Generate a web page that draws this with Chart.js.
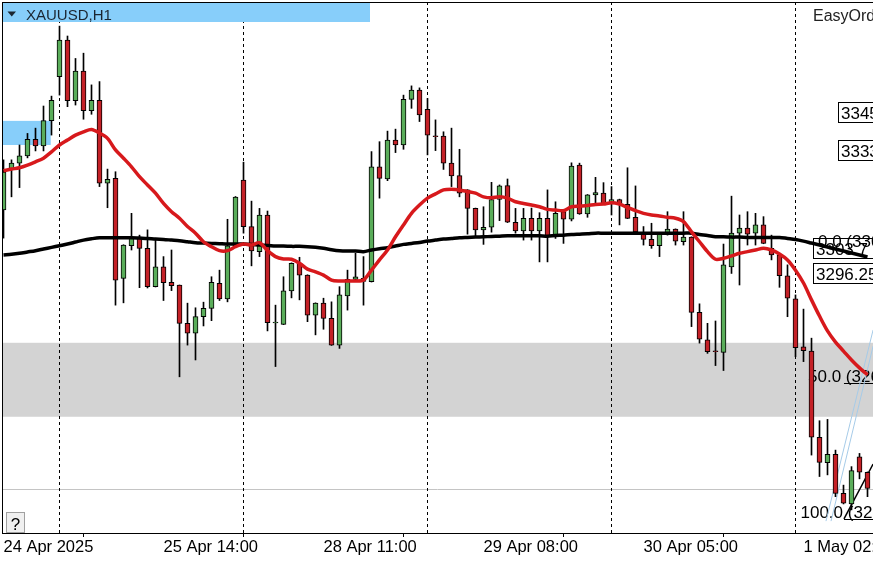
<!DOCTYPE html>
<html>
<head>
<meta charset="utf-8">
<title>XAUUSD,H1</title>
<script src="https://cdn.jsdelivr.net/npm/chart.js@4.4.1/dist/chart.umd.min.js"></script>
<style>
    html, body { margin: 0; padding: 0; background: #ffffff; }
    #wrap { position: relative; width: 873px; height: 562px; }
</style>
</head>
<body>
<div id="wrap"><canvas id="priceChart"></canvas></div>
<script>
// ===============================
// XAUUSD H1
// ===============================

const tickBars = [0, 20, 40, 60, 80, 100];

const tickLabels = [
    "24 Apr 2025",
    "25 Apr 14:00",
    "28 Apr 11:00",
    "29 Apr 08:00",
    "30 Apr 05:00",
    "1 May 02:00"
];

const daySeparators = [7, 30, 53, 76, 99];

const openPrices = [
    3315.3, 3327.7, 3329.5, 3331.7, 3336.7, 3334.7, 3342.4, 3355.7, 3366.8, 3348.4,
    3357.4, 3345.4, 3348.5, 3323.4, 3324.9, 3294.6, 3304.5, 3306.7, 3303.7, 3292.1,
    3298.1, 3293.4, 3292.6, 3281.0, 3278.0, 3283.0, 3285.5, 3293.1, 3288.4, 3304.5,
    3324.4, 3310.3, 3302.7, 3313.8, 3281.1, 3280.7, 3290.8, 3299.2, 3295.6, 3283.5,
    3287.1, 3282.5, 3274.4, 3289.3, 3294.3, 3294.6, 3293.6, 3328.4, 3324.7, 3336.5,
    3335.0, 3348.8, 3351.6, 3345.8, 3337.6, 3337.7, 3329.5, 3325.7, 3321.4, 3315.8,
    3309.3, 3310.1, 3318.5, 3322.7, 3311.6, 3309.0, 3312.8, 3309.0, 3312.8, 3307.2,
    3314.8, 3312.5, 3328.9, 3314.1, 3319.9, 3320.4, 3317.5, 3318.5, 3317.0, 3313.1,
    3308.0, 3306.4, 3304.5, 3308.3, 3309.5, 3305.7, 3307.1, 3284.3, 3276.0, 3272.5,
    3272.2, 3298.1, 3308.3, 3309.8, 3308.3, 3310.8, 3303.7, 3301.7, 3295.4, 3288.4,
    3273.9, 3272.6, 3246.5, 3238.8, 3241.3, 3229.5, 3226.3, 3240.6, 3235.9
];

const highPrices = [
    3330.5, 3330.5, 3335.0, 3338.5, 3340.1, 3346.8, 3349.8, 3371.0, 3368.0, 3361.2,
    3362.8, 3353.2, 3354.2, 3327.7, 3326.9, 3304.8, 3314.3, 3307.7, 3309.3, 3306.2,
    3301.2, 3303.2, 3292.6, 3287.1, 3285.7, 3287.4, 3295.1, 3297.1, 3312.5, 3319.4,
    3329.8, 3318.0, 3315.8, 3315.0, 3286.5, 3295.1, 3299.3, 3301.0, 3295.7, 3287.2,
    3288.6, 3287.5, 3292.1, 3297.1, 3302.2, 3301.2, 3333.0, 3336.0, 3339.2, 3339.8,
    3350.1, 3352.9, 3352.3, 3349.1, 3342.6, 3339.0, 3340.1, 3333.7, 3321.5, 3315.9,
    3316.3, 3323.7, 3322.9, 3324.7, 3315.8, 3315.8, 3315.9, 3314.5, 3321.4, 3317.8,
    3314.9, 3329.6, 3329.5, 3320.0, 3325.2, 3323.6, 3322.4, 3318.6, 3328.1, 3322.6,
    3310.3, 3311.3, 3308.4, 3314.8, 3309.6, 3314.8, 3307.2, 3286.9, 3281.0, 3281.7,
    3305.0, 3319.5, 3313.8, 3314.8, 3314.3, 3313.3, 3307.7, 3302.2, 3298.7, 3289.6,
    3285.3, 3276.5, 3251.5, 3251.9, 3242.6, 3232.0, 3237.6, 3241.6, 3236.0
];

const lowPrices = [
    3306.8, 3319.3, 3322.1, 3331.1, 3333.2, 3333.2, 3338.0, 3350.1, 3346.6, 3347.1,
    3342.8, 3344.3, 3322.4, 3316.0, 3286.5, 3287.2, 3303.2, 3291.8, 3291.7, 3292.0,
    3287.9, 3290.9, 3264.8, 3274.4, 3269.9, 3280.2, 3281.8, 3287.9, 3287.5, 3304.4,
    3308.3, 3298.4, 3301.2, 3278.7, 3267.9, 3280.6, 3288.7, 3288.1, 3281.5, 3277.5,
    3279.2, 3274.3, 3273.4, 3285.0, 3294.1, 3286.5, 3293.5, 3318.9, 3324.2, 3332.7,
    3333.7, 3346.1, 3342.1, 3332.0, 3333.3, 3327.6, 3322.4, 3319.3, 3308.0, 3307.2,
    3304.9, 3308.6, 3312.1, 3311.5, 3308.3, 3306.2, 3306.2, 3299.6, 3299.6, 3306.7,
    3305.2, 3312.0, 3314.0, 3313.1, 3317.3, 3317.0, 3313.8, 3310.8, 3312.7, 3308.3,
    3304.7, 3303.7, 3301.2, 3307.7, 3304.7, 3304.7, 3280.0, 3275.0, 3271.9, 3268.2,
    3266.7, 3296.1, 3292.6, 3304.7, 3304.7, 3305.1, 3300.2, 3291.9, 3283.0, 3270.9,
    3269.4, 3241.1, 3234.6, 3235.1, 3228.5, 3226.3, 3224.5, 3233.9, 3228.5
];

const closePrices = [
    3326.8, 3329.5, 3331.7, 3336.7, 3334.7, 3342.4, 3348.5, 3366.8, 3348.4, 3357.4,
    3345.4, 3348.5, 3323.4, 3324.6, 3294.1, 3304.7, 3306.7, 3303.7, 3292.1, 3298.1,
    3293.3, 3292.4, 3281.0, 3278.0, 3283.0, 3285.5, 3293.4, 3288.4, 3304.5, 3319.2,
    3310.3, 3302.9, 3313.8, 3281.2, 3281.3, 3290.8, 3299.2, 3295.6, 3283.5, 3287.1,
    3282.5, 3274.4, 3289.6, 3294.3, 3295.1, 3293.7, 3328.4, 3324.9, 3336.5, 3335.0,
    3348.8, 3351.6, 3344.1, 3338.0, 3337.5, 3329.5, 3325.6, 3320.4, 3315.8, 3309.3,
    3310.1, 3318.5, 3322.6, 3311.6, 3309.0, 3312.8, 3309.0, 3312.8, 3307.2, 3314.3,
    3312.5, 3328.6, 3314.1, 3319.9, 3320.6, 3317.1, 3318.5, 3317.0, 3312.8, 3308.7,
    3306.4, 3304.5, 3308.3, 3309.5, 3305.9, 3307.1, 3284.3, 3276.2, 3272.4, 3272.4,
    3298.7, 3308.3, 3309.8, 3308.0, 3310.8, 3305.2, 3301.7, 3295.4, 3288.6, 3273.6,
    3272.7, 3246.5, 3238.9, 3241.3, 3229.5, 3226.5, 3236.4, 3235.9, 3231.0
];

// red moving average
const maFast = [
    3327.2, 3327.7, 3328.1, 3328.9, 3329.9, 3331.0, 3332.9, 3335.0, 3336.5, 3338.0,
    3339.0, 3339.7, 3338.6, 3337.0, 3333.5, 3331.0, 3328.4, 3325.4, 3322.9, 3320.4,
    3317.3, 3314.8, 3312.8, 3310.3, 3308.3, 3305.7, 3304.2, 3303.0, 3303.0, 3304.2,
    3305.0, 3304.7, 3305.4, 3303.0, 3301.2, 3300.5, 3300.4, 3299.2, 3297.4, 3296.6,
    3295.6, 3294.1, 3293.8, 3293.8, 3293.8, 3294.1, 3297.1, 3300.2, 3303.2, 3307.2,
    3310.8, 3314.3, 3316.8, 3318.9, 3320.2, 3321.4, 3321.6, 3321.4, 3320.9, 3320.4,
    3319.3, 3319.0, 3319.3, 3318.9, 3317.8, 3317.3, 3316.8, 3316.3, 3315.5, 3315.3,
    3315.1, 3316.3, 3316.5, 3316.7, 3317.0, 3317.1, 3317.5, 3317.1, 3316.1, 3315.1,
    3314.3, 3313.8, 3313.5, 3313.1, 3312.8, 3311.8, 3308.7, 3305.7, 3302.7, 3300.4,
    3300.7, 3301.4, 3302.2, 3302.7, 3303.2, 3303.7, 3303.2, 3302.0, 3300.2, 3297.1,
    3293.2, 3288.1, 3283.2, 3278.7, 3275.3, 3272.6, 3269.9, 3267.5, 3265.4
];

// black moving average
const maSlow = [
    3301.7, 3301.9, 3302.2, 3302.6, 3303.0, 3303.5, 3304.0, 3304.5, 3305.0, 3305.6,
    3306.2, 3306.6, 3306.9, 3306.9, 3306.9, 3306.9, 3306.9, 3306.8, 3306.7, 3306.5,
    3306.4, 3306.2, 3306.0, 3305.7, 3305.4, 3305.3, 3305.2, 3305.1, 3305.0, 3305.0,
    3305.0, 3304.9, 3304.7, 3304.6, 3304.4, 3304.4, 3304.3, 3304.3, 3304.2, 3304.0,
    3303.7, 3303.3, 3303.0, 3302.9, 3302.9, 3302.7, 3303.2, 3303.6, 3303.9, 3304.4,
    3304.9, 3305.2, 3305.5, 3305.9, 3306.2, 3306.5, 3306.7, 3306.9, 3307.0, 3307.1,
    3307.2, 3307.3, 3307.4, 3307.5, 3307.5, 3307.5, 3307.5, 3307.5, 3307.4, 3307.6,
    3307.7, 3307.9, 3308.0, 3308.1, 3308.3, 3308.3, 3308.3, 3308.3, 3308.3, 3308.3,
    3308.3, 3308.3, 3308.3, 3308.3, 3308.3, 3308.3, 3308.3, 3307.9, 3307.6, 3307.2,
    3307.2, 3307.1, 3307.1, 3307.0, 3307.0, 3307.0, 3307.0, 3307.0, 3306.7, 3306.4,
    3305.9, 3305.3, 3304.7, 3304.1, 3303.5, 3302.9, 3302.3, 3301.7, 3301.1
];

// chart objects
const zoneTop = 3275.1;
const zoneBottom = 3252.7;
const supportLine = 3230.7;

const boxBars = [-0.2, 5.9];
const boxPrices = [3342.3, 3335.0];

const fibStartBar = 105.06;
const fibPrices = [3303.8, 3262.8, 3221.8];
const fibTexts = ["0.0 (3303.80)", "50.0 (3262.80)", "100.0 (3221.80)"];

const fibBaseBars = [105.06, 108.7];
const fibBasePrices = [3221.8, 3238.4];

const channelBarsA = [102.81, 108.7];
const channelPricesA = [3221.1, 3279.0];
const channelBarsB = [103.44, 108.7];
const channelPricesB = [3221.1, 3274.1];

const priceTags = ["3345", "3333", "3303.7", "3296.25"];
const priceTagValues = [3345.0, 3333.6, 3303.9, 3296.2];

// =================================
// COLOURS / FONTS
// =================================

const bullColor = "#5aad5a";
const bearColor = "#c42127";
const fontFamily = "'Liberation Sans', Arial, sans-serif";

function toPoints(bars, values) {
    return bars.map((b, i) => ({ x: b, y: values[i] }));
}

// =================================
// BACKGROUND OBJECTS
// =================================

const objectsPlugin = {

    id: "objects",

    beforeDatasetsDraw(chart) {

        const { ctx, chartArea: a, scales } = chart;
        const x = scales.x;
        const y = scales.y;

        ctx.save();

        // gray zone
        const zt = y.getPixelForValue(zoneTop);
        const zb = y.getPixelForValue(zoneBottom);
        ctx.fillStyle = "#d3d3d3";
        ctx.fillRect(a.left, zt, a.right - a.left, zb - zt);

        // support line
        const sy = Math.round(y.getPixelForValue(supportLine)) + 0.5;
        ctx.strokeStyle = "#c4c4c4";
        ctx.lineWidth = 1;
        ctx.beginPath();
        ctx.moveTo(a.left, sy);
        ctx.lineTo(a.right, sy);
        ctx.stroke();

        // blue rectangle
        const bx1 = Math.max(a.left, x.getPixelForValue(boxBars[0]));
        const bx2 = x.getPixelForValue(boxBars[1]);
        const by1 = y.getPixelForValue(boxPrices[0]);
        const by2 = y.getPixelForValue(boxPrices[1]);
        ctx.fillStyle = "#87cefa";
        ctx.fillRect(bx1, by1, bx2 - bx1, by2 - by1);

        // day separators
        ctx.strokeStyle = "#000000";
        ctx.setLineDash([3, 3]);
        daySeparators.forEach(bar => {
            const px = x.getPixelForValue(bar);
            ctx.beginPath();
            ctx.moveTo(px, a.top);
            ctx.lineTo(px, a.bottom);
            ctx.stroke();
        });
        ctx.setLineDash([]);

        // fibo levels
        const fx = x.getPixelForValue(fibStartBar);
        fibPrices.forEach(p => {
            const py = Math.round(y.getPixelForValue(p)) + 0.5;
            ctx.beginPath();
            ctx.moveTo(fx, py);
            ctx.lineTo(a.right, py);
            ctx.stroke();
        });

        // price tags
        const tagLeft = [a.right - 35, a.right - 35, a.right - 60, a.right - 60];
        ctx.font = "17px " + fontFamily;
        ctx.textBaseline = "alphabetic";
        ctx.textAlign = "left";
        priceTags.forEach((t, i) => {
            const cy = y.getPixelForValue(priceTagValues[i]);
            const top = Math.round(cy - 10) + 0.5;
            ctx.fillStyle = "#ffffff";
            ctx.fillRect(tagLeft[i], top, 80, 20);
            ctx.strokeStyle = "#000000";
            ctx.strokeRect(tagLeft[i] + 0.5, top, 80, 20);
            ctx.fillStyle = "#000000";
            ctx.fillText(t, tagLeft[i] + 3, top + 16);
        });

        // fibo texts
        const textLeft = [a.right - 55, a.right - 65, a.right - 72.5];
        fibPrices.forEach((p, i) => {
            const py = y.getPixelForValue(p);
            ctx.fillStyle = "#000000";
            ctx.fillText(fibTexts[i], textLeft[i], py - 1);
        });

        // expert label
        ctx.font = "16px " + fontFamily;
        ctx.fillStyle = "#222222";
        ctx.fillText("EasyOrder", a.right - 60, 21);

        ctx.restore();
    }
};

// =================================
// WINDOW OVERLAY
// =================================

const overlayPlugin = {

    id: "overlay",

    afterDraw(chart) {

        const { ctx, chartArea: a } = chart;

        ctx.save();

        // frame
        ctx.fillStyle = "#000000";
        ctx.fillRect(a.left, a.top, a.right - a.left, 1);
        ctx.fillRect(a.left, a.top, 1, a.bottom - a.top);

        // title bar
        ctx.fillStyle = "#87cefa";
        ctx.fillRect(a.left + 1, a.top + 1, 367, 19);

        ctx.fillStyle = "#1b2631";
        ctx.beginPath();
        ctx.moveTo(a.left + 5.5, a.top + 9.5);
        ctx.lineTo(a.left + 14, a.top + 9.5);
        ctx.lineTo(a.left + 9.75, a.top + 14.5);
        ctx.closePath();
        ctx.fill();

        ctx.font = "15px " + fontFamily;
        ctx.textBaseline = "alphabetic";
        ctx.textAlign = "left";
        ctx.fillText("XAUUSD,H1", a.left + 24, a.top + 18);

        // help button
        ctx.fillStyle = "#f0f0f0";
        ctx.fillRect(a.left + 4.5, a.bottom - 20.5, 18, 20);
        ctx.strokeStyle = "#a0a0a0";
        ctx.lineWidth = 1;
        ctx.strokeRect(a.left + 4.5, a.bottom - 20.5, 18, 20);
        ctx.fillStyle = "#000000";
        ctx.font = "17px " + fontFamily;
        ctx.textAlign = "center";
        ctx.fillText("?", a.left + 13.5, a.bottom - 3);

        ctx.restore();
    }
};

// =================================
// CHART
// =================================

function createPriceChart() {

    const canvas = document.getElementById("priceChart");

    new Chart(canvas, {

        type: "bar",

        data: {

            datasets: [

                {
                    type: "line",
                    label: "MA fast",
                    data: maFast.map((v, i) => ({ x: i, y: v })),
                    borderColor: "#d7191c",
                    borderWidth: 3.5,
                    pointRadius: 0,
                    tension: 0.3,
                    order: 1
                },

                {
                    type: "line",
                    label: "MA slow",
                    data: maSlow.map((v, i) => ({ x: i, y: v })),
                    borderColor: "#000000",
                    borderWidth: 3.5,
                    pointRadius: 0,
                    tension: 0.3,
                    order: 2
                },

                {
                    label: "Body",
                    data: openPrices.map((o, i) => ({ x: i, y: [o, closePrices[i]] })),
                    backgroundColor: ctx =>
                        closePrices[ctx.dataIndex] >= openPrices[ctx.dataIndex]
                            ? bullColor
                            : bearColor,
                    borderColor: "#000000",
                    borderWidth: 1,
                    borderSkipped: false,
                    barThickness: 5,
                    minBarLength: 1,
                    grouped: false,
                    order: 4
                },

                {
                    label: "Wick",
                    data: lowPrices.map((l, i) => ({ x: i, y: [l, highPrices[i]] })),
                    backgroundColor: "#000000",
                    borderWidth: 0,
                    barThickness: 1,
                    grouped: false,
                    order: 5
                },

                {
                    type: "line",
                    label: "Fibo base",
                    data: toPoints(fibBaseBars, fibBasePrices),
                    borderColor: "#000000",
                    borderWidth: 1.5,
                    pointRadius: 0,
                    order: 8
                },

                {
                    type: "line",
                    label: "Channel A",
                    data: toPoints(channelBarsA, channelPricesA),
                    borderColor: "#a6cbe8",
                    borderWidth: 1,
                    pointRadius: 0,
                    order: 9
                },

                {
                    type: "line",
                    label: "Channel B",
                    data: toPoints(channelBarsB, channelPricesB),
                    borderColor: "#a6cbe8",
                    borderWidth: 1,
                    pointRadius: 0,
                    order: 9
                }
            ]
        },

        options: {

            responsive: true,
            maintainAspectRatio: false,
            animation: false,
            devicePixelRatio: 1,

            layout: {
                padding: { top: 2, left: 2, right: 0, bottom: 0 }
            },

            plugins: {
                legend: { display: false },
                tooltip: { enabled: false }
            },

            scales: {

                x: {
                    type: "linear",
                    offset: false,
                    min: -0.1875,
                    max: 108.6875,
                    afterBuildTicks: scale => {
                        scale.ticks = tickBars.map(v => ({ value: v }));
                    },
                    afterFit: scale => {
                        scale.height = 29;
                        scale.paddingLeft = 0;
                        scale.paddingRight = 0;
                    },
                    ticks: {
                        autoSkip: false,
                        maxRotation: 0,
                        minRotation: 0,
                        align: "start",
                        padding: 1,
                        color: "#000000",
                        font: { family: fontFamily, size: 16.5 },
                        callback: value => {
                            const k = tickBars.indexOf(value);
                            return k < 0 ? "" : tickLabels[k];
                        }
                    },
                    grid: {
                        drawOnChartArea: false,
                        drawTicks: true,
                        tickLength: 4,
                        tickColor: "#000000"
                    },
                    border: {
                        display: true,
                        color: "#000000",
                        width: 1
                    }
                },

                y: {
                    display: false,
                    min: 3217.5,
                    max: 3378.3
                }
            }
        },

        plugins: [objectsPlugin, overlayPlugin]
    });
}

window.onload = function () {
    createPriceChart();
};
</script>
</body>
</html>
